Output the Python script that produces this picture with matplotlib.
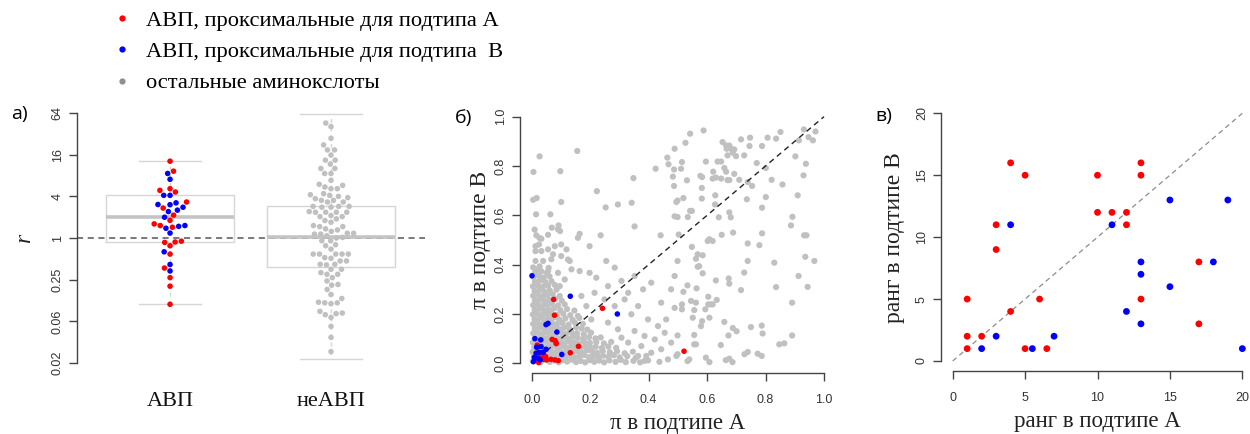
import numpy as np
import matplotlib
matplotlib.use("Agg")
import matplotlib.pyplot as plt
from matplotlib.lines import Line2D

# ---------------- data ----------------
# panel a: log2(r) of amino-acid positions
abp_red_log2 = [3.69, 3.21, 2.37, 2.21, 2.29, 1.73, 1.44, 1.10, 0.85, 0.52, 0.60, 0.68,
                -0.15, -0.19, -0.37, -0.21, -0.77, -1.44, -1.90, -2.31, -3.18]
abp_blue_log2 = [3.10, 2.82, 2.05, 2.05, 1.69, 1.61, 1.60, 1.48, 1.34, 1.27, 1.00, 0.60,
                 0.56, 0.47, 0.24, -0.66, -1.27, -1.58]
nonabp_log2 = [5.52, 5.35, 4.79, 4.47, 4.23, 4.23, 3.98, 3.74, 3.74, 3.55, 3.34, 3.34,
               3.10, 3.10, 2.77, 2.58, 2.53, 2.45, 2.37, 2.37, 2.13, 2.08, 2.05, 2.00,
               1.94, 1.89, 1.81, 1.81, 1.73, 1.73, 1.52, 1.52, 1.52, 1.48, 1.48, 1.27,
               1.24, 1.24, 1.24, 1.24, 1.08, 1.03, 1.03, 0.92, 0.84, 0.76, 0.60, 0.55,
               0.55, 0.44, 0.39, 0.32, 0.23, 0.23, 0.19, 0.19, 0.11, 0.03, 0.00, -0.13,
               -0.13, -0.32, -0.37, -0.53, -0.77, -0.77, -0.77, -0.77, -0.77, -0.94,
               -0.97, -1.10, -1.10, -1.26, -1.26, -1.29, -1.50, -1.50, -1.66, -1.74,
               -1.74, -1.90, -2.06, -2.23, -2.26, -2.47, -2.71, -2.90, -3.08, -3.11,
               -3.11, -3.15, -3.52, -3.60, -3.63, -3.68, -3.81, -4.24, -4.77, -5.45]
group_labels = ["АВП", "неАВП"]
# box statistics (r values)
box_q1 = [0.877, 0.387]
box_med = [2.0, 1.02]
box_q3 = [4.14, 2.89]
box_lo = [0.110, 0.0177]
box_hi = [12.9, 61.4]
r_ticks = [2.0**-6, 2.0**-4, 2.0**-2, 1, 4, 16, 64]
r_tick_labels = ["0.02", "0.06", "0.25", "1", "4", "16", "64"]

# panel b: pi in subtype A / B
pi_a_red = [0.075, 0.078, 0.242, 0.070, 0.080, 0.084, 0.160, 0.132, 0.521, 0.019, 0.040,
            0.048, 0.066, 0.080, 0.091, 0.024, 0.040, 0.029, 0.011, 0.051]
pi_b_red = [0.259, 0.195, 0.223, 0.097, 0.092, 0.080, 0.069, 0.043, 0.049, 0.074, 0.041,
            0.027, 0.016, 0.014, 0.011, 0.003, 0.016, 0.027, 0.014, 0.014]
pi_a_blue = [0.001, 0.132, 0.293, 0.049, 0.056, 0.086, 0.011, 0.031, 0.103, 0.017, 0.032,
             0.015, 0.025, 0.039, 0.009, 0.022, 0.049, 0.006, 0.029]
pi_b_blue = [0.355, 0.272, 0.200, 0.157, 0.162, 0.127, 0.100, 0.095, 0.036, 0.065, 0.068,
             0.041, 0.045, 0.045, 0.024, 0.020, 0.057, 0.007, 0.014]
other_sparse = [
    (0.027, 0.839), (0.156, 0.861), (0.006, 0.776), (0.098, 0.779), (0.348, 0.751), (0.223, 0.698),
    (0.424, 0.789), (0.489, 0.870), (0.464, 0.834), (0.468, 0.807), (0.487, 0.786), (0.483, 0.757),
    (0.487, 0.719), (0.495, 0.654), (0.489, 0.596), (0.005, 0.663), (0.017, 0.670), (0.101, 0.654),
    (0.253, 0.632), (0.295, 0.644), (0.342, 0.651), (0.015, 0.604), (0.064, 0.604), (0.352, 0.555),
    (0.010, 0.542), (0.069, 0.550), (0.092, 0.559), (0.090, 0.543), (0.097, 0.536), (0.056, 0.521),
    (0.164, 0.525), (0.236, 0.519), (0.441, 0.519), (0.027, 0.508), (0.033, 0.505), (0.016, 0.519),
    (0.542, 0.931), (0.588, 0.944), (0.526, 0.894), (0.653, 0.897), (0.665, 0.883), (0.676, 0.883),
    (0.667, 0.870), (0.682, 0.870), (0.693, 0.867), (0.688, 0.854), (0.699, 0.840), (0.670, 0.843),
    (0.716, 0.908), (0.747, 0.915), (0.745, 0.881), (0.788, 0.881), (0.807, 0.915), (0.836, 0.911),
    (0.851, 0.938), (0.931, 0.948), (0.947, 0.917), (0.962, 0.904), (0.971, 0.940), (0.914, 0.904),
    (0.727, 0.843), (0.770, 0.812), (0.801, 0.792), (0.902, 0.839), (0.938, 0.809), (0.930, 0.762),
    (0.514, 0.816), (0.511, 0.789), (0.596, 0.818), (0.636, 0.818), (0.648, 0.818), (0.621, 0.777),
    (0.659, 0.792), (0.665, 0.777), (0.693, 0.768), (0.577, 0.760), (0.583, 0.755), (0.619, 0.749),
    (0.630, 0.753), (0.648, 0.749), (0.670, 0.743), (0.676, 0.743), (0.710, 0.744), (0.739, 0.735),
    (0.754, 0.719), (0.821, 0.744), (0.858, 0.725), (0.531, 0.742), (0.582, 0.711), (0.628, 0.681),
    (0.582, 0.668), (0.519, 0.670), (0.736, 0.665), (0.801, 0.674), (0.910, 0.681), (0.788, 0.631),
    (0.542, 0.618), (0.548, 0.618), (0.627, 0.644), (0.534, 0.593), (0.640, 0.592), (0.676, 0.612),
    (0.681, 0.592), (0.892, 0.594), (0.887, 0.559), (0.499, 0.593), (0.499, 0.660), (0.650, 0.521),
    (0.689, 0.530), (0.788, 0.527), (0.932, 0.519), (0.940, 0.519), (0.503, 0.522), (0.608, 0.503),
    (0.602, 0.496), (0.619, 0.496), (0.739, 0.486), (0.779, 0.479), (0.548, 0.472), (0.568, 0.442),
    (0.562, 0.424), (0.585, 0.438), (0.568, 0.392), (0.573, 0.394), (0.585, 0.365), (0.499, 0.415),
    (0.739, 0.415), (0.830, 0.408), (0.936, 0.432), (0.967, 0.415), (0.727, 0.368), (0.630, 0.336),
    (0.674, 0.344), (0.676, 0.323), (0.716, 0.297), (0.836, 0.309), (0.913, 0.354), (0.944, 0.310),
    (0.533, 0.316), (0.564, 0.304), (0.519, 0.290), (0.604, 0.270), (0.633, 0.257), (0.545, 0.253),
    (0.562, 0.246), (0.604, 0.239), (0.612, 0.239), (0.619, 0.239), (0.514, 0.239), (0.514, 0.219),
    (0.556, 0.216), (0.594, 0.219), (0.891, 0.246), (0.551, 0.185), (0.608, 0.185), (0.583, 0.171),
    (0.579, 0.151), (0.659, 0.168), (0.688, 0.143), (0.701, 0.130), (0.750, 0.147), (0.787, 0.153),
    (0.790, 0.121), (0.673, 0.113), (0.556, 0.115), (0.499, 0.113), (0.556, 0.077), (0.562, 0.077),
    (0.647, 0.074), (0.847, 0.077), (0.864, 0.081), (0.891, 0.113), (0.739, 0.046), (0.728, 0.037),
    (0.773, 0.039), (0.787, 0.030), (0.596, 0.023), (0.608, 0.005), (0.664, 0.013), (0.676, 0.019),
    (0.687, 0.005), (0.533, 0.009), (0.539, 0.016), (0.499, 0.037),
    (0.198, 0.475), (0.158, 0.509), (0.119, 0.462), (0.101, 0.482), (0.124, 0.421), (0.073, 0.442),
    (0.136, 0.381), (0.164, 0.374), (0.198, 0.367), (0.221, 0.347), (0.255, 0.415), (0.284, 0.388),
    (0.261, 0.313), (0.307, 0.334), (0.330, 0.286), (0.352, 0.354), (0.381, 0.300), (0.409, 0.327),
    (0.443, 0.246), (0.477, 0.300), (0.489, 0.354), (0.460, 0.178), (0.489, 0.225), (0.432, 0.151),
    (0.398, 0.178), (0.364, 0.232), (0.341, 0.199), (0.318, 0.259), (0.284, 0.232), (0.249, 0.259),
    (0.215, 0.286), (0.187, 0.232), (0.170, 0.273), (0.158, 0.192), (0.204, 0.178), (0.261, 0.165),
    (0.295, 0.138), (0.352, 0.131), (0.386, 0.111), (0.421, 0.097), (0.455, 0.124), (0.477, 0.084),
    (0.443, 0.057), (0.409, 0.043), (0.495, 0.030), (0.375, 0.070), (0.330, 0.084), (0.307, 0.104),
    (0.466, 0.016), (0.386, 0.010), (0.364, 0.030),
    (0.013, 0.475), (0.025, 0.482), (0.013, 0.455), (0.033, 0.455), (0.056, 0.462), (0.079, 0.475),
    (0.039, 0.415), (0.013, 0.415), (0.067, 0.422), (0.101, 0.435), (0.130, 0.415), (0.021, 0.381),
    (0.056, 0.374), (0.090, 0.367), (0.113, 0.340), (0.096, 0.313),
]
other_dense = [
    (0.004, 0.008), (0.018, 0.012), (0.031, 0.005), (0.047, 0.014), (0.062, 0.006), (0.076, 0.011),
    (0.093, 0.004), (0.108, 0.013), (0.121, 0.007), (0.137, 0.015), (0.152, 0.005), (0.168, 0.010),
    (0.183, 0.004), (0.199, 0.013), (0.214, 0.006), (0.231, 0.011), (0.248, 0.004), (0.266, 0.012),
    (0.287, 0.006), (0.305, 0.014), (0.322, 0.005), (0.348, 0.010), (0.371, 0.004), (0.398, 0.012),
    (0.437, 0.006),
    (0.008, 0.027), (0.024, 0.031), (0.039, 0.024), (0.055, 0.029), (0.070, 0.033), (0.086, 0.025),
    (0.101, 0.030), (0.117, 0.026), (0.132, 0.032), (0.148, 0.024), (0.164, 0.029), (0.179, 0.034),
    (0.195, 0.025), (0.211, 0.030), (0.228, 0.023), (0.244, 0.031), (0.262, 0.026), (0.281, 0.033),
    (0.301, 0.024), (0.327, 0.029), (0.356, 0.022), (0.392, 0.030),
    (0.003, 0.046), (0.017, 0.050), (0.033, 0.044), (0.049, 0.048), (0.064, 0.052), (0.080, 0.045),
    (0.096, 0.049), (0.111, 0.043), (0.127, 0.051), (0.142, 0.046), (0.158, 0.048), (0.174, 0.044),
    (0.190, 0.053), (0.207, 0.047), (0.225, 0.042), (0.243, 0.050), (0.267, 0.045), (0.292, 0.049),
    (0.318, 0.041), (0.346, 0.047),
    (0.009, 0.065), (0.025, 0.069), (0.041, 0.063), (0.057, 0.067), (0.072, 0.071), (0.088, 0.064),
    (0.103, 0.068), (0.119, 0.062), (0.135, 0.070), (0.150, 0.066), (0.166, 0.061), (0.183, 0.069),
    (0.201, 0.064), (0.219, 0.067), (0.240, 0.062), (0.262, 0.068), (0.289, 0.063),
    (0.004, 0.084), (0.019, 0.088), (0.035, 0.082), (0.051, 0.086), (0.066, 0.090), (0.082, 0.083),
    (0.098, 0.087), (0.113, 0.081), (0.129, 0.089), (0.146, 0.085), (0.162, 0.080), (0.180, 0.088),
    (0.199, 0.083), (0.221, 0.086), (0.247, 0.081), (0.272, 0.087),
    (0.010, 0.103), (0.026, 0.107), (0.042, 0.101), (0.058, 0.105), (0.073, 0.109), (0.089, 0.102),
    (0.106, 0.106), (0.122, 0.100), (0.139, 0.108), (0.157, 0.104), (0.176, 0.099), (0.196, 0.106),
    (0.218, 0.101), (0.236, 0.105),
    (0.005, 0.122), (0.020, 0.126), (0.036, 0.120), (0.052, 0.124), (0.067, 0.128), (0.084, 0.121),
    (0.101, 0.125), (0.118, 0.119), (0.136, 0.127), (0.155, 0.122), (0.178, 0.118), (0.203, 0.124),
    (0.011, 0.141), (0.027, 0.145), (0.043, 0.139), (0.059, 0.143), (0.075, 0.147), (0.093, 0.140),
    (0.111, 0.144), (0.130, 0.138), (0.152, 0.146), (0.171, 0.141), (0.190, 0.137),
    (0.005, 0.160), (0.020, 0.164), (0.036, 0.158), (0.052, 0.162), (0.068, 0.166), (0.086, 0.159),
    (0.105, 0.163), (0.126, 0.157), (0.148, 0.165), (0.175, 0.160),
    (0.010, 0.179), (0.026, 0.183), (0.042, 0.177), (0.058, 0.181), (0.075, 0.185), (0.094, 0.178),
    (0.115, 0.182), (0.140, 0.176), (0.163, 0.184),
    (0.004, 0.198), (0.019, 0.202), (0.035, 0.196), (0.051, 0.200), (0.067, 0.204), (0.086, 0.197),
    (0.108, 0.201), (0.132, 0.195),
    (0.010, 0.217), (0.026, 0.221), (0.042, 0.215), (0.059, 0.219), (0.077, 0.223), (0.098, 0.216),
    (0.121, 0.220), (0.146, 0.214),
    (0.005, 0.236), (0.020, 0.240), (0.036, 0.234), (0.052, 0.238), (0.069, 0.242), (0.090, 0.235),
    (0.113, 0.239),
    (0.011, 0.255), (0.027, 0.259), (0.043, 0.253), (0.060, 0.257), (0.080, 0.261), (0.103, 0.254),
    (0.005, 0.274), (0.020, 0.278), (0.036, 0.272), (0.053, 0.276), (0.072, 0.280), (0.096, 0.273),
    (0.010, 0.293), (0.026, 0.297), (0.043, 0.291), (0.062, 0.295), (0.085, 0.299),
    (0.004, 0.312), (0.020, 0.316), (0.037, 0.310), (0.056, 0.314), (0.079, 0.318),
    (0.011, 0.331), (0.028, 0.335), (0.047, 0.329), (0.068, 0.333),
    (0.006, 0.350), (0.024, 0.354), (0.041, 0.348), (0.061, 0.352),
    (0.012, 0.369), (0.033, 0.373), (0.052, 0.367),
    (0.005, 0.389), (0.027, 0.393), (0.058, 0.387),
]
pi_ticks = [0.0, 0.2, 0.4, 0.6, 0.8, 1.0]

# panel c: ranks
rank_a_red = [1, 1, 1, 2, 3, 3, 4, 4, 5, 5, 6, 6.5, 10, 10, 11, 12, 12, 13, 13, 13, 17, 17]
rank_b_red = [1, 2, 5, 2, 9, 11, 4, 16, 15, 1, 5, 1, 15, 12, 12, 12, 11, 16, 15, 5, 8, 3]
rank_a_blue = [2, 3, 4, 5.5, 7, 11, 12, 13, 13, 13, 15, 15, 18, 19, 20]
rank_b_blue = [1, 2, 11, 1, 2, 11, 4, 8, 7, 3, 13, 6, 8, 13, 1]
rank_ticks = [0, 5, 10, 15, 20]

legend_labels = ["АВП, проксимальные для подтипа А",
                 "АВП, проксимальные для подтипа  В",
                 "остальные аминокслоты"]

# ---------------- style ----------------
RED = "#ff0000"
BLUE = "#0000ff"
GREY = "#c0c0c0"
W, H = 1250, 434
SERIF = ["Liberation Serif", "DejaVu Serif"]
SANS = ["Liberation Sans", "DejaVu Sans"]
TICKC = "#444444"

fig = plt.figure(figsize=(W / 100, H / 100), dpi=100)


def px_axes(left, top, right, bottom):
    return fig.add_axes([left / W, 1 - bottom / H, (right - left) / W, (bottom - top) / H])


def style_axes(ax):
    for s in ["top", "right"]:
        ax.spines[s].set_visible(False)
    for s in ["left", "bottom"]:
        ax.spines[s].set_color(TICKC)
        ax.spines[s].set_linewidth(1.0)
    ax.tick_params(colors=TICKC, labelcolor="#333333", length=6, width=1.0, labelsize=9)
    ax.tick_params(axis="x", pad=9)
    for lab in ax.get_xticklabels() + ax.get_yticklabels():
        lab.set_family(SANS)


def swarm(ax, xcenter, yvals, d_px):
    pts = ax.transData.transform(np.column_stack([np.full(len(yvals), xcenter), yvals]))
    yd = pts[:, 1]
    order = np.argsort(yd, kind="stable")
    px_list, py_list = [], []
    offs = np.zeros(len(yvals))
    for i in order:
        y = yd[i]
        cands = [0.0]
        for qx, qy in zip(px_list, py_list):
            dy = abs(qy - y)
            if dy < d_px:
                dx = np.sqrt(d_px ** 2 - dy ** 2)
                cands += [qx + dx, qx - dx]
        cands.sort(key=lambda c: (abs(c), c))
        for c in cands:
            if all((c - qx) ** 2 + (y - qy) ** 2 >= d_px ** 2 - 1e-6
                   for qx, qy in zip(px_list, py_list)):
                offs[i] = c
                break
        px_list.append(offs[i])
        py_list.append(y)
    # pixel offset -> data units
    x0 = ax.transData.transform((xcenter, 1))[0]
    x1 = ax.transData.transform((xcenter + 1, 1))[0]
    return xcenter + offs / (x1 - x0)


# ---------------- panel a ----------------
ax1 = px_axes(77, 108.9, 425, 367.2)
ax1.set_yscale("log", base=2)
ax1.set_ylim(2.0 ** -6.2, 2.0 ** 6.2)
ax1.set_xlim(0.422, 2.584)
stats = []
for k in range(2):
    stats.append(dict(med=box_med[k], q1=box_q1[k], q3=box_q3[k],
                      whislo=box_lo[k], whishi=box_hi[k], fliers=[]))
ax1.bxp(stats, positions=[1, 2], widths=0.795, showfliers=False, capwidths=0.39,
        boxprops=dict(color="#d6d6d6", linewidth=1.0),
        whiskerprops=dict(color="#d6d6d6", linewidth=1.0, linestyle=(0, (3, 3))),
        capprops=dict(color="#d6d6d6", linewidth=1.0),
        medianprops=dict(color="#c4c4c4", linewidth=2.6))
ax1.axhline(1.0, color="#555555", linestyle=(0, (4, 3)), linewidth=1.1, zorder=2)

abp_log2 = abp_red_log2 + abp_blue_log2
abp_colors = [RED] * len(abp_red_log2) + [BLUE] * len(abp_blue_log2)
abp_r = 2.0 ** np.array(abp_log2)
abp_x = swarm(ax1, 1, abp_r, 6.3)
ax1.scatter(abp_x, abp_r, s=16, c=abp_colors, edgecolors="none", zorder=3)
non_r = 2.0 ** np.array(nonabp_log2)
non_x = swarm(ax1, 2, non_r, 6.3)
ax1.scatter(non_x, non_r, s=16, c=GREY, edgecolors="none", zorder=3)

style_axes(ax1)
ax1.spines["bottom"].set_visible(False)
ax1.spines["left"].set_bounds(2.0 ** -6, 2.0 ** 6)
ax1.set_yticks(r_ticks)
ax1.set_yticklabels(r_tick_labels, rotation=90, va="center", family=SANS)
ax1.yaxis.set_minor_locator(matplotlib.ticker.NullLocator())
ax1.set_xticks([1, 2])
ax1.set_xticklabels(group_labels, family=SERIF, fontsize=16, color="#111111")
ax1.tick_params(axis="x", length=0, pad=18)
ax1.set_ylabel("r", family=SERIF, style="italic", fontsize=17, labelpad=12, color="#222222")
fig.text(11 / W, 1 - 114 / H, "а)", fontsize=14, family=["Open Sans", "DejaVu Sans"],
         va="center", ha="left")

# ---------------- panel b ----------------
ax2 = px_axes(520, 106.8, 835.7, 373.2)
ax2.set_xlim(-0.04, 1.04)
ax2.set_ylim(-0.04, 1.04)
oth = np.array(other_sparse + other_dense)
ax2.scatter(oth[:, 0], oth[:, 1], s=20, c=GREY, edgecolors="none", zorder=2)
ax2.plot([0, 1], [0, 1], color="#222222", linestyle=(0, (4, 3)), linewidth=1.0, zorder=3)
ax2.scatter(pi_a_red, pi_b_red, s=16, c=RED, edgecolors="none", zorder=4)
ax2.scatter(pi_a_blue, pi_b_blue, s=16, c=BLUE, edgecolors="none", zorder=4)
style_axes(ax2)
ax2.spines["left"].set_bounds(0, 1)
ax2.spines["bottom"].set_bounds(0, 1)
ax2.set_xticks(pi_ticks)
ax2.set_xticklabels([f"{t:.1f}" for t in pi_ticks], family=SANS)
ax2.set_yticks(pi_ticks)
ax2.set_yticklabels([f"{t:.1f}" for t in pi_ticks], rotation=90, va="center", family=SANS)
ax2.set_xlabel("π в подтипе А", family=SERIF, fontsize=16.5, labelpad=5, color="#222222")
ax2.set_ylabel("π в подтипе В", family=SERIF, fontsize=17, labelpad=3, color="#222222")
fig.text(455 / W, 1 - 118 / H, "б)", fontsize=14, family=["Open Sans", "DejaVu Sans"],
         va="center", ha="left")

# ---------------- panel c ----------------
ax3 = px_axes(941.1, 103.4, 1253.9, 370.9)
ax3.set_xlim(-0.8, 20.8)
ax3.set_ylim(-0.8, 20.8)
ax3.plot([0, 20], [0, 20], color="#8c8c8c", linestyle=(0, (4, 3)), linewidth=0.9, zorder=2)
ax3.scatter(rank_a_red, rank_b_red, s=24, c=RED, edgecolors="none", zorder=3)
ax3.scatter(rank_a_blue, rank_b_blue, s=24, c=BLUE, edgecolors="none", zorder=3)
style_axes(ax3)
ax3.spines["left"].set_bounds(0, 20)
ax3.spines["bottom"].set_bounds(0, 20)
ax3.set_xticks(rank_ticks)
ax3.set_xticklabels([str(t) for t in rank_ticks], family=SANS)
ax3.set_yticks(rank_ticks)
ax3.set_yticklabels([str(t) for t in rank_ticks], rotation=90, va="center", family=SANS)
ax3.set_xlabel("ранг в подтипе А", family=SERIF, fontsize=16.5, labelpad=5, color="#222222")
ax3.set_ylabel("ранг в подтипе В", family=SERIF, fontsize=17, labelpad=8, color="#222222")
fig.text(875 / W, 1 - 116 / H, "в)", fontsize=14, family=["Open Sans", "DejaVu Sans"],
         va="center", ha="left")

# ---------------- legend ----------------
handles = [Line2D([], [], marker="o", linestyle="", markersize=4.5, color=c, markeredgewidth=0)
           for c in (RED, BLUE, "#8f8f8f")]
fig.legend(handles, legend_labels, loc="upper left", bbox_to_anchor=(111 / W, 1 - 10 / H),
           frameon=False, prop=dict(family=SERIF, size=16.2), handlelength=1.0,
           handletextpad=0.55, labelspacing=0.47, borderpad=0, borderaxespad=0)

fig.savefig("out.png", dpi=100)
